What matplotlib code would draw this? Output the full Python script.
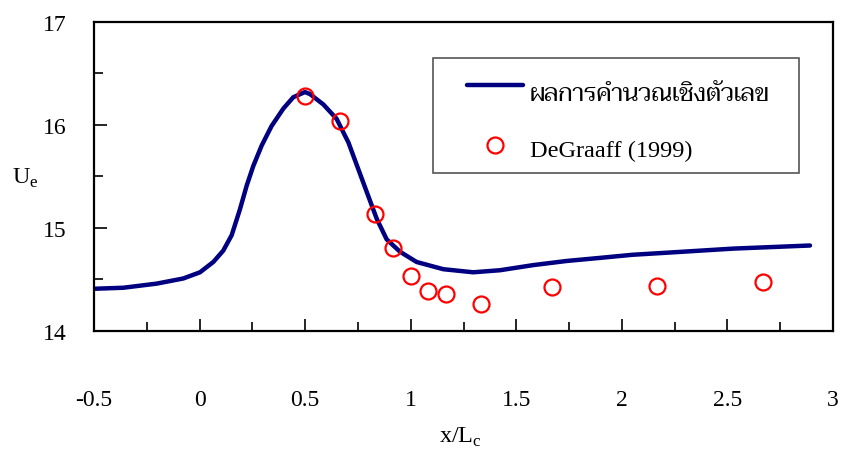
import matplotlib
matplotlib.use('Agg')
import matplotlib.pyplot as plt
from matplotlib.lines import Line2D
from matplotlib.patches import Rectangle
from matplotlib.ticker import MultipleLocator, FormatStrFormatter

# numerical solution (line)
x_calc = [-0.5, -0.361, -0.203, -0.077, 0.002, 0.065, 0.112, 0.152, 0.191, 0.223,
          0.254, 0.294, 0.341, 0.397, 0.444, 0.499, 0.523, 0.586, 0.649, 0.705,
          0.752, 0.799, 0.839, 0.886, 0.949, 1.028, 1.154, 1.296, 1.423, 1.581,
          1.739, 1.897, 2.05, 2.212, 2.528, 2.891]
u_calc = [14.41, 14.42, 14.46, 14.51, 14.57, 14.67, 14.78, 14.93, 15.18, 15.41,
          15.60, 15.80, 15.99, 16.16, 16.27, 16.32, 16.30, 16.20, 16.06, 15.83,
          15.57, 15.31, 15.09, 14.89, 14.77, 14.67, 14.60, 14.57, 14.59, 14.64,
          14.68, 14.71, 14.74, 14.76, 14.80, 14.83]

# DeGraaff (1999) experiment
x_exp = [0.5, 0.667, 0.833, 0.917, 1.0, 1.083, 1.167, 1.333, 1.667, 2.167, 2.667]
u_exp = [16.28, 16.04, 15.14, 14.81, 14.53, 14.39, 14.36, 14.26, 14.43, 14.44, 14.48]

label_calc = 'ผลการคำนวณเชิงตัวเลข'
label_exp = 'DeGraaff (1999)'

serif = ['Liberation Serif', 'DejaVu Serif']
thai = ['Taviraj', 'Trirong', 'Sarabun', 'Athiti']

plt.rcParams['font.family'] = serif
plt.rcParams['font.size'] = 17
plt.rcParams['axes.unicode_minus'] = False
plt.rcParams['mathtext.fontset'] = 'custom'
plt.rcParams['mathtext.rm'] = 'Liberation Serif'

W, H = 841, 452


def fx(px):
    return px / W


def fy(py):
    return 1 - py / H


fig = plt.figure(figsize=(W / 100, H / 100), dpi=100)
ax = fig.add_axes([fx(94), fy(332), (833 - 94) / W, (332 - 23) / H])

line_style = dict(color='#000080', lw=3.2, solid_capstyle='round', solid_joinstyle='round')
mark_style = dict(marker='o', ls='none', mfc='none', mec='red', mew=1.6, ms=11.5)

ax.plot(x_calc, u_calc, **line_style)
ax.plot(x_exp, u_exp, **mark_style)

ax.set_xlim(-0.5, 3)
ax.set_ylim(14, 17)
ax.xaxis.set_major_locator(MultipleLocator(0.5))
ax.xaxis.set_minor_locator(MultipleLocator(0.25))
ax.yaxis.set_major_locator(MultipleLocator(1))
ax.yaxis.set_minor_locator(MultipleLocator(0.5))
ax.xaxis.set_major_formatter(FormatStrFormatter('%g'))
ax.yaxis.set_major_formatter(FormatStrFormatter('%g'))
ax.tick_params(which='both', direction='in', top=False, right=False, width=1.2,
               labelsize=17)
ax.tick_params(axis='x', which='major', length=9, pad=42)
ax.tick_params(axis='x', which='minor', length=6.5)
ax.tick_params(axis='y', which='major', length=9, pad=19.5)
ax.tick_params(axis='y', which='minor', length=6.5)
for s in ax.spines.values():
    s.set_linewidth(1.6)

fig.text(fx(460), fy(437), r'x/L$_\mathregular{c}$', fontsize=17.5,
         ha='center', va='center')
fig.text(fx(12), fy(178), r'U$_\mathregular{e}$', fontsize=17.5,
         ha='left', va='center')

# legend box drawn by hand so its padding matches the reference
fig.add_artist(Rectangle((fx(433), fy(174)), (799 - 433) / W, (174 - 59) / H,
                         transform=fig.transFigure, facecolor='white',
                         edgecolor='#555555', lw=1.2, zorder=5))
fig.add_artist(Line2D([fx(467), fx(523)], [fy(86), fy(86)], transform=fig.transFigure,
                      zorder=6, **line_style))
fig.add_artist(Line2D([fx(495)], [fy(146)], transform=fig.transFigure,
                      zorder=6, **mark_style))
fig.text(fx(530), fy(101), label_calc, family=thai + serif, fontsize=17.5,
         ha='left', va='baseline', zorder=7)
fig.text(fx(530), fy(157), label_exp, fontsize=17.5,
         ha='left', va='baseline', zorder=7)

fig.savefig('out.png', dpi=100)
